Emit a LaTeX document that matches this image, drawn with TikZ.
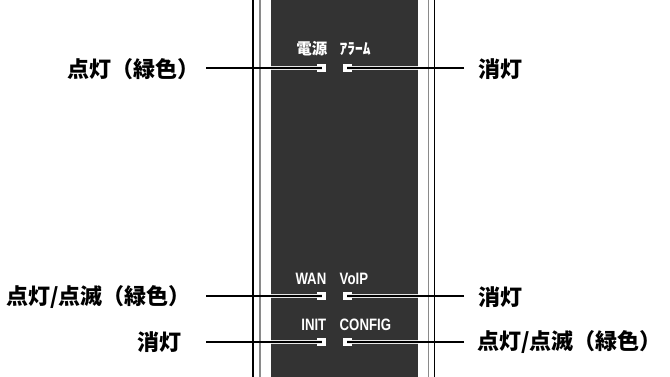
\documentclass[tikz,border=0pt]{standalone}
\usepackage{fontspec}
\newfontfamily\jpfont{Noto Sans CJK JP}
\newfontfamily\narrowfont[FakeStretch=0.8]{Liberation Sans}
\definecolor{paneldark}{HTML}{333333}
\definecolor{edgegray}{HTML}{8A8A8A}
\tikzset{
  panelbox/.style={draw=none, fill=paneldark, minimum width=147pt, minimum height=377pt, inner sep=0pt},
  ledbox/.style={draw=none, fill=white, minimum width=9pt, minimum height=8pt, inner sep=0pt},
  outlabel/.style={font=\jpfont\bfseries\fontsize{22}{22}\selectfont, inner sep=0pt, text=black},
  jplabel/.style={font=\jpfont\bfseries\fontsize{15.5}{15.5}\selectfont, inner sep=0pt, text=white},
  enlabel/.style={font=\narrowfont\bfseries\fontsize{16.5}{16.5}\selectfont, inner sep=0pt, text=white},
  leader/.style={draw=black, line width=1.8pt},
  halo/.style={draw=white!80!gray, line width=4pt},
  railblack/.style={draw=black, line width=1.4pt},
  railgray/.style={draw=edgegray, line width=1.4pt}
}
\begin{document}
\begin{tikzpicture}[x=1pt,y=-1pt]
\useasboundingbox[fill=white] (0,0) rectangle (670,377);
% panel
\node[panelbox] (panel) at (344.5,188.5) {};
\draw[railblack] (253,0) -- (253,377);
\draw[railgray] (260,0) -- (260,377);
\draw[railgray] (428.5,0) -- (428.5,377);
\draw[railblack] (434.5,0) -- (434.5,377);
% panel labels
\node[jplabel, anchor=east] (tpow) at (327.5,49) {電源};
\node[jplabel, anchor=west] (talm) at (339.5,49) {ｱﾗｰﾑ};
\node[enlabel, anchor=east] (twan) at (326.5,279) {WAN};
\node[enlabel, anchor=west] (tvoip) at (339.5,279) {VoIP};
\node[enlabel, anchor=east] (tinit) at (326.5,325) {INIT};
\node[enlabel, anchor=west] (tconf) at (339.5,325) {CONFIG};
% LEDs
\node[ledbox] (ledpow) at (321.5,68) {};
\node[ledbox] (ledalm) at (347,68) {};
\node[ledbox] (ledwan) at (321.5,296) {};
\node[ledbox] (ledvoip) at (347,296) {};
\node[ledbox] (ledinit) at (321.5,342) {};
\node[ledbox] (ledconf) at (347,342) {};
% outer labels
\node[outlabel, anchor=west] (lpow) at (67,69) {点灯（緑色）};
\node[outlabel, anchor=west] (lwan) at (6,297) {点灯/点滅（緑色）};
\node[outlabel, anchor=west] (linit) at (137,342) {消灯};
\node[outlabel, anchor=west] (ralm) at (478,69) {消灯};
\node[outlabel, anchor=west] (rvoip) at (478,297) {消灯};
\node[outlabel, anchor=west] (rconf) at (477,342) {点灯/点滅（緑色）};
% free ends of leaders
\coordinate (epow) at (206,68);
\coordinate (ewan) at (206,296);
\coordinate (einit) at (206,342);
\coordinate (ealm) at (464,68);
\coordinate (evoip) at (464,296);
\coordinate (econf) at (464,342);
% halos on the dark panel
\draw[halo] (panel.west |- ledpow.center) -- (ledpow.center);
\draw[halo] (panel.west |- ledwan.center) -- (ledwan.center);
\draw[halo] (panel.west |- ledinit.center) -- (ledinit.center);
\draw[halo] (panel.east |- ledalm.center) -- (ledalm.center);
\draw[halo] (panel.east |- ledvoip.center) -- (ledvoip.center);
\draw[halo] (panel.east |- ledconf.center) -- (ledconf.center);
% leaders
\draw[leader] (epow) -- (ledpow.center);
\draw[leader] (ewan) -- (ledwan.center);
\draw[leader] (einit) -- (ledinit.center);
\draw[leader] (ealm) -- (ledalm.center);
\draw[leader] (evoip) -- (ledvoip.center);
\draw[leader] (econf) -- (ledconf.center);
\end{tikzpicture}
\end{document}
